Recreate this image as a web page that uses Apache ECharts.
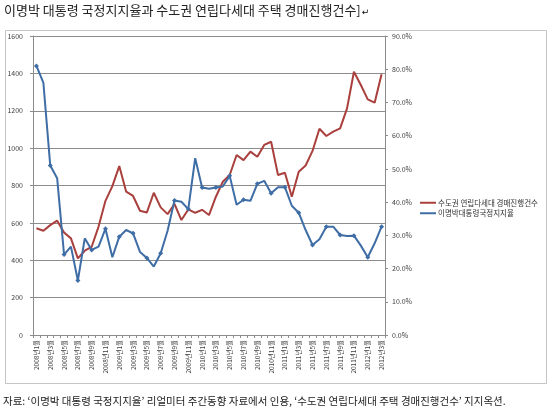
<!DOCTYPE html>
<html>
<head>
<meta charset="utf-8">
<script src="https://cdn.jsdelivr.net/npm/echarts@6/dist/echarts.min.js"></script>
<style>
html,body{margin:0;padding:0;background:#fff;}
#c{width:550px;height:412px;}
</style>
</head>
<body>
<div id="c"></div>
<script>
const categories = [
 '2008년1월','2008년2월','2008년3월','2008년4월','2008년5월','2008년6월','2008년7월','2008년8월','2008년9월','2008년10월','2008년11월','2008년12월',
 '2009년1월','2009년2월','2009년3월','2009년4월','2009년5월','2009년6월','2009년7월','2009년8월','2009년9월','2009년10월','2009년11월','2009년12월',
 '2010년1월','2010년2월','2010년3월','2010년4월','2010년5월','2010년6월','2010년7월','2010년8월','2010년9월','2010년10월','2010년11월','2010년12월',
 '2011년1월','2011년2월','2011년3월','2011년4월','2011년5월','2011년6월','2011년7월','2011년8월','2011년9월','2011년10월','2011년11월','2011년12월',
 '2012년1월','2012년2월','2012년3월'
];
const auctionName = '수도권 연립다세대 경매진행건수';
const approvalName = '이명박대통령국정지지율';
const auctionCounts = [
 571,558,588,612,548,517,410,451,472,580,718,797,
 904,767,744,665,656,761,683,647,701,615,672,654,
 670,642,740,820,856,963,936,981,954,1017,1034,856,
 868,740,874,907,985,1104,1065,1088,1106,1213,1409,1338,
 1261,1243,1395
];
const approvalRates = [
 81.0,76.0,51.0,47.2,24.2,26.6,16.4,29.1,25.6,26.6,32.0,23.4,
 29.6,31.6,30.6,25.0,23.2,20.6,24.6,31.4,40.5,40.1,37.9,53.2,
 44.4,44.0,44.4,44.7,47.9,39.2,40.7,40.4,45.5,46.4,42.7,44.5,
 44.5,38.9,36.8,31.6,27.1,28.8,32.6,32.6,30.1,29.8,29.9,26.9,
 23.4,27.6,32.6
];
const titleText = '이명박 대통령 국정지지율과 수도권 연립다세대 주택 경매진행건수]';
const sourceText = '자료: ‘이명박 대통령 국정지지율’ 리얼미터 주간동향 자료에서 인용, ‘수도권 연립다세대 주택 경매진행건수’ 지지옥션.';

const FONT = '"Noto Sans CJK KR", "Noto Sans", sans-serif';
const RED = '#A9403D';
const BLUE = '#3F6DA5';
const GRAY = '#8c8c8c';
const LINE_ICON = 'path://M0,0 L16,0 L16,2 L0,2 Z';

const chart = echarts.init(document.getElementById('c'));
chart.setOption({
  animation: false,
  backgroundColor: '#fff',
  textStyle: { fontFamily: FONT },
  graphic: [
    { type: 'rect', shape: { x: 5.5, y: 30.5, width: 541, height: 353 }, style: { fill: 'none', stroke: '#c4c4c4', lineWidth: 1 }, z: -1 },
    { type: 'text', left: 4, top: 4, style: {
        text: '{t|' + titleText + '}{m|↵}',
        rich: {
          t: { font: '13px ' + FONT, fill: '#222', fontSize: 13, fontFamily: FONT, color: '#222' },
          m: { fontSize: 9, fontFamily: '"DejaVu Sans"', color: '#888', padding: [4, 0, 0, 1] }
        }
      } },
    { type: 'text', left: 3, top: 396, style: { text: sourceText, font: '10.5px ' + FONT, fill: '#222' } }
  ],
  legend: {
    orient: 'vertical',
    left: 415,
    top: 194,
    itemWidth: 16,
    itemHeight: 8,
    itemGap: 3,
    data: [
      { name: auctionName, icon: LINE_ICON },
      { name: approvalName, icon: LINE_ICON }
    ],
    textStyle: { fontSize: 7.5, color: '#333', fontFamily: FONT, padding: [0,0,0,-3] }
  },
  grid: { left: 33, right: 165, top: 36, bottom: 77 },
  xAxis: {
    type: 'category',
    data: categories,
    boundaryGap: true,
    axisLine: { lineStyle: { color: GRAY } },
    axisTick: { show: true, interval: 0, length: 3, lineStyle: { color: GRAY } },
    axisLabel: { interval: 1, rotate: 90, fontSize: 6.5, color: '#404040', margin: 5, fontFamily: FONT }
  },
  yAxis: [
    {
      type: 'value', min: 0, max: 1600, interval: 200, position: 'left',
      axisLine: { show: true, lineStyle: { color: GRAY } },
      axisTick: { show: true, length: 3, lineStyle: { color: GRAY } },
      axisLabel: { fontSize: 7, color: '#404040', margin: 10, formatter: v => String(v) },
      splitLine: { show: true, lineStyle: { color: GRAY, width: 1 } }
    },
    {
      type: 'value', min: 0, max: 90, interval: 10, position: 'right',
      axisLine: { show: true, lineStyle: { color: GRAY } },
      axisTick: { show: true, length: 3, lineStyle: { color: GRAY } },
      axisLabel: { fontSize: 7, color: '#404040', margin: 7, formatter: v => v.toFixed(1) + '%' },
      splitLine: { show: false }
    }
  ],
  series: [
    {
      name: auctionName, type: 'line', yAxisIndex: 0, data: auctionCounts,
      symbol: 'none', lineStyle: { color: RED, width: 2 }, itemStyle: { color: RED }
    },
    {
      name: approvalName, type: 'line', yAxisIndex: 1, data: approvalRates,
      symbol: 'diamond', symbolSize: 5, showSymbol: true,
      lineStyle: { color: BLUE, width: 2 }, itemStyle: { color: BLUE }
    }
  ]
});
</script>
</body>
</html>
